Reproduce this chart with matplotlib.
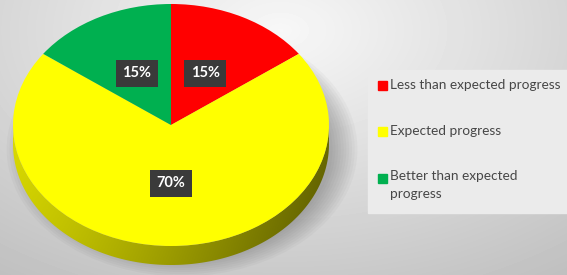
import matplotlib.pyplot as plt
import numpy as np
from matplotlib.patches import Polygon, Rectangle, Ellipse

labels = ['Less than expected progress', 'Expected progress',
          'Better than expected\nprogress']
values = [15, 70, 15]
colors = ['#ff0000', '#ffff00', '#00b050']

W, H = 567, 275
fig = plt.figure(figsize=(W / 100, H / 100), dpi=100)

# background, pixel coords
bg = fig.add_axes([0, 0, 1, 1])
yy, xx = np.mgrid[0:H, 0:W]
d = np.hypot((xx - 280) / 420.0, (yy - 30) / 260.0)
shade = np.clip(0.97 - 0.19 * d, 0, 1)
bg.imshow(shade, cmap='gray', vmin=0, vmax=1, extent=(0, W, H, 0), aspect='auto')
bg.add_patch(Rectangle((368, 70), 200, 143, color='#ebebeb', zorder=2))
bg.set_xlim(0, W)
bg.set_ylim(H, 0)
bg.axis('off')

# legend drawn by hand
leg_y = [85, 131, 178]
for lab, col, y in zip(labels, colors, leg_y):
    bg.add_patch(Rectangle((378, y - 4.5), 9, 9, color=col, zorder=3))
    multi = '\n' in lab
    bg.text(390, y - 7.5 if multi else y, lab,
            va='top' if multi else 'center', ha='left',
            fontsize=9.8, family='Lato', color='#474747', zorder=3,
            linespacing=1.6)

# pie axes: ellipse of rx x ry pixels centred at (cx, cy)
cx, cy, rx, ry = 171, 125, 158, 121
dep = 19 / ry
ax = fig.add_axes([0, 0, 1, 1])
ax.patch.set_alpha(0)

# shadow
for k in range(10):
    ax.add_patch(Ellipse((0.07, -0.2), 2.22 - 0.035 * k, 2.1 - 0.035 * k,
                         color='#505050', alpha=0.045, lw=0, zorder=0.2))

# side of the disc
t = np.linspace(np.pi, 2 * np.pi, 200)
top = np.c_[np.cos(t), np.sin(t)]
bot = top - [0, dep]
side = Polygon(np.vstack([top, bot[::-1]]), closed=True, fc='none', ec='none',
               zorder=0.5)
ax.add_patch(side)
gx = np.linspace(0, 1, 200)
gy = np.linspace(0, 1, 50)[:, None]
lev = 0.86 - 0.44 * gx[None, :] ** 1.3 - 0.08 * gy
rgb = np.dstack([lev, lev, np.zeros_like(lev)])
im = ax.imshow(rgb, extent=(-1, 1, -1 - dep, 0), aspect='auto', zorder=0.6)
im.set_clip_path(side)

wedges, texts, autotexts = ax.pie(
    values, colors=colors, startangle=90, counterclock=False,
    autopct='%1.0f%%', pctdistance=0.48,
    wedgeprops=dict(linewidth=0, zorder=1),
    textprops=dict(color='white', fontsize=10.5, fontweight='bold', family='Lato'))
for at in autotexts:
    at.set_bbox(dict(boxstyle='square,pad=0.45', fc='#3a3a3a', ec='none'))
    at.set_zorder(3)

ax.set_aspect('auto')
ax.set_xlim(-cx / rx, (W - cx) / rx)
ax.set_ylim((cy - H) / ry, cy / ry)
ax.axis('off')

fig.savefig('out.png', dpi=100)
